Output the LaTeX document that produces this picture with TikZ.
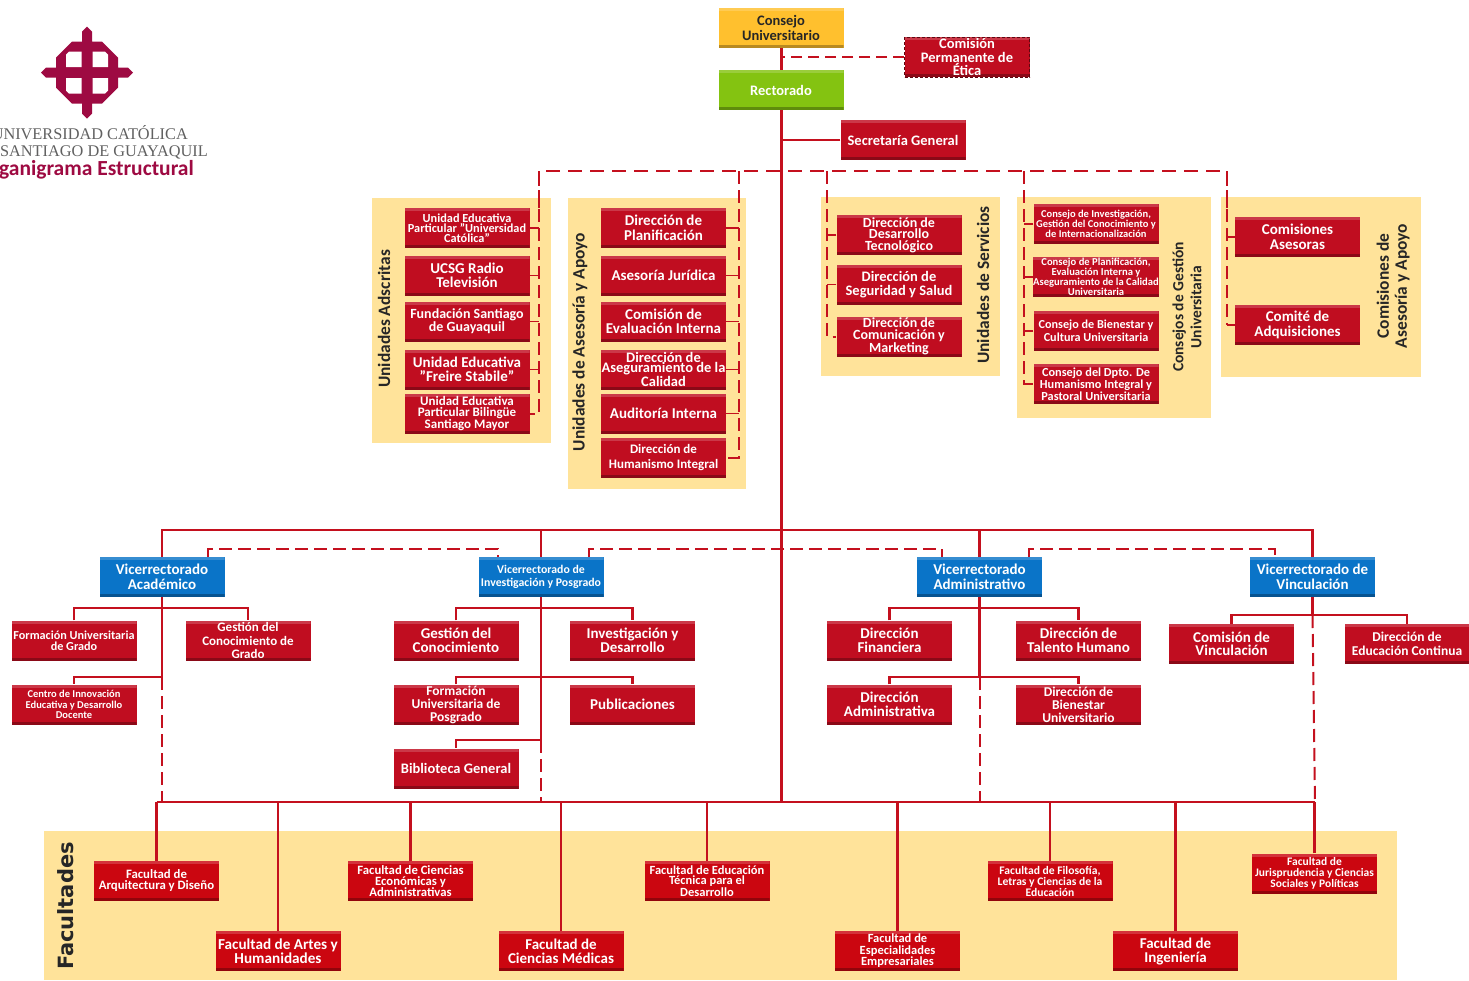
\documentclass[tikz,border=0pt]{standalone}
\usepackage{fontspec}
\setmainfont{Carlito}
\newfontfamily\logofont{Liberation Serif}
\newfontfamily\facfont{DejaVu Sans}
\usetikzlibrary{calc}
\definecolor{boxred}{HTML}{C00D20}
\definecolor{facred}{HTML}{CB0610}
\definecolor{linered}{HTML}{C4101E}
\definecolor{sand}{HTML}{FFE39A}
\definecolor{vblue}{HTML}{0A74C8}
\definecolor{cgold}{HTML}{FFC02E}
\definecolor{rgreen}{HTML}{84C311}
\definecolor{crest}{HTML}{9E0A42}
\newcommand\fz[2]{\fontsize{#1}{#2}\selectfont}
\tikzset{
  x=1pt,y=-1pt,
  base/.style={minimum width=125pt,minimum height=40pt,inner sep=0pt,align=center,
    text=white,font=\bfseries,
    path picture={
      \fill[white,opacity=.18] (path picture bounding box.north west) rectangle ([yshift=-3pt]path picture bounding box.north east);
      \fill[black,opacity=.28] (path picture bounding box.south west) rectangle ([yshift=3pt]path picture bounding box.south east);
    }},
  redbox/.style={base,fill=boxred},
  facbox/.style={base,fill=facred},
  bluebox/.style={base,fill=vblue},
  goldbox/.style={base,fill=cgold,text=black!85},
  greenbox/.style={base,fill=rgreen},
  band/.style={fill=sand},
  grouplabel/.style={rotate=90,align=center,font=\bfseries\fz{17.4}{18},text=black!85},
  main/.style={draw=linered,line width=3pt},
  solidline/.style={draw=linered,line width=2.3pt},
  thinline/.style={draw=linered,line width=1.5pt},
  dashline/.style={draw=linered,line width=2.4pt,dash pattern=on 14pt off 8pt},
  dashvert/.style={draw=linered,line width=2pt,dash pattern=on 13pt off 6pt},
  branch/.style={draw=linered,line width=1.5pt},
}
\begin{document}
\begin{tikzpicture}
\useasboundingbox (0,0) rectangle (1469,980);
\fill[white] (0,0) rectangle (1469,980);
% crest
\begin{scope}[shift={(87,72.5)}]
\fill[crest] (0,-46)--(5,-41)--(5,-31)--(15,-31)--(31,-15)--(31,-5)--(41,-5)--(46,0)
 --(41,5)--(31,5)--(31,15)--(15,31)--(5,31)--(5,41)--(0,46)--(-5,41)--(-5,31)--(-15,31)
 --(-31,15)--(-31,5)--(-41,5)--(-46,0)--(-41,-5)--(-31,-5)--(-31,-15)--(-15,-31)--(-5,-31)--(-5,-41)--cycle;
\foreach \sx/\sy in {1/1,1/-1,-1/1,-1/-1}
  \fill[white,xscale=\sx,yscale=\sy] (5.5,5.5)--(21,5.5)--(21,18)--(18,21)--(5.5,21)--cycle;
\end{scope}
\node[anchor=east,inner sep=0pt,text=black!62,font=\logofont\fz{16.3}{18}] (logoa) at (188,133) {UNIVERSIDAD CATÓLICA};
\node[anchor=east,inner sep=0pt,text=black!62,font=\logofont\fz{16.3}{18}] (logob) at (208,152) {SANTIAGO DE GUAYAQUIL};
\node[anchor=east,inner sep=0pt,text=crest,font=\bfseries\fz{21.5}{23}] (logoc) at (194,170) {Organigrama Estructural};
% bands
\fill[band] (372,198) rectangle (551,443);
\fill[band] (568,198) rectangle (746,489);
\fill[band] (821,197) rectangle (1000,376);
\fill[band] (1017,197) rectangle (1211,418);
\fill[band] (1221,197) rectangle (1421,377);
\fill[band] (44,831) rectangle (1397,980);
\node[grouplabel] (lbla) at (384,319) {Unidades Adscritas};
\node[grouplabel] (lblb) at (580,342) {Unidades de Asesoría y Apoyo};
\node[grouplabel] (lblc) at (983,285) {Unidades de Servicios};
\node[grouplabel,font=\bfseries\fz{15.5}{18}] (lbld) at (1187,307) {Consejos de Gestión\\Universitaria};
\node[grouplabel] (lble) at (1393,286) {Comisiones de\\Asesoría y Apoyo};
\node[rotate=90,font=\facfont\bfseries\fz{21}{23},text=black!85] (lblf) at (66,906) {Facultades};
% top
\node[goldbox,font=\bfseries\fz{14.5}{14.5}] (cu) at (781,28) {Consejo\\Universitario};
\node[greenbox,font=\bfseries\fz{14.5}{15}] (re) at (781,90) {Rectorado};
\node[redbox,draw=black!50!boxred,densely dashed,line width=.6pt,font=\bfseries\fz{14.5}{13.5}] (et) at (967,57) {Comisión\\Permanente de\\Ética};
\node[redbox,font=\bfseries\fz{14.5}{15}] (sg) at (903,140) {Secretaría General};
% adscritas
\node[redbox,font=\bfseries\fz{12.3}{10}] (a1) at (467,228) {Unidad Educativa\\Particular "Universidad\\Católica"};
\node[redbox,font=\bfseries\fz{15}{14.5}] (a2) at (467,275.5) {UCSG Radio\\Televisión};
\node[redbox,font=\bfseries\fz{14}{11}] (a3) at (467,321.5) {Fundación Santiago\\de Guayaquil};
\node[redbox,font=\bfseries\fz{15}{14.5}] (a4) at (467,369.5) {Unidad Educativa\\"Freire Stabile"};
\node[redbox,font=\bfseries\fz{13}{10.5}] (a5) at (467,413.5) {Unidad Educativa\\Particular Bilingüe\\Santiago Mayor};
% asesoria
\node[redbox,font=\bfseries\fz{15}{14.5}] (b1) at (663.5,228) {Dirección de\\Planificación};
\node[redbox,font=\bfseries\fz{15}{15}] (b2) at (663.5,275.5) {Asesoría Jurídica};
\node[redbox,font=\bfseries\fz{15}{14.5}] (b3) at (663.5,321.5) {Comisión de\\Evaluación Interna};
\node[redbox,font=\bfseries\fz{14.5}{10.5}] (b4) at (663.5,369.5) {Dirección de\\Aseguramiento de la\\Calidad};
\node[redbox,font=\bfseries\fz{15}{15}] (b5) at (663.5,413.5) {Auditoría Interna};
\node[redbox,font=\bfseries\fz{13}{14.5}] (b6) at (663.5,457.5) {Dirección de\\Humanismo Integral};
% servicios
\node[redbox,font=\bfseries\fz{14}{11.5}] (c1) at (899,235) {Dirección de\\Desarrollo\\Tecnológico};
\node[redbox,font=\bfseries\fz{14.5}{14.5}] (c2) at (899,284.5) {Dirección de\\Seguridad y Salud};
\node[redbox,font=\bfseries\fz{14}{11.5}] (c3) at (899,336.5) {Dirección de\\Comunicación y\\Marketing};
% consejos
\node[redbox,font=\bfseries\fz{10.5}{10}] (d1) at (1096,224) {Consejo de Investigación,\\Gestión del Conocimiento y\\de Internacionalización};
\node[redbox,font=\bfseries\fz{10.6}{10.2}] (d2) at (1096,277) {Consejo de Planificación,\\Evaluación Interna y\\Aseguramiento de la Calidad\\Universitaria};
\node[redbox,font=\bfseries\fz{12.2}{13}] (d3) at (1096,331) {Consejo de Bienestar y\\Cultura Universitaria};
\node[redbox,font=\bfseries\fz{12.3}{12}] (d4) at (1096,384) {Consejo del Dpto. De\\Humanismo Integral y\\Pastoral Universitaria};
% comisiones
\node[redbox,font=\bfseries\fz{15}{14.5}] (e1) at (1297.5,237) {Comisiones\\Asesoras};
\node[redbox,font=\bfseries\fz{15}{14.5}] (e2) at (1297.5,325) {Comité de\\Adquisiciones};
% vicerrectorados
\node[bluebox,font=\bfseries\fz{15}{14.5}] (va) at (162,577) {Vicerrectorado\\Académico};
\node[bluebox,font=\bfseries\fz{11.8}{13.5}] (vi) at (541,577) {Vicerrectorado de\\Investigación y Posgrado};
\node[bluebox,font=\bfseries\fz{15}{14.5}] (vd) at (979.5,577) {Vicerrectorado\\Administrativo};
\node[bluebox,font=\bfseries\fz{15}{14.5}] (vv) at (1312.5,577) {Vicerrectorado de\\Vinculación};
% academico
\node[redbox,font=\bfseries\fz{12.2}{11}] (f1) at (74,640.5) {Formación Universitaria\\de Grado};
\node[redbox,font=\bfseries\fz{13}{13.5}] (f2) at (248,640.5) {Gestión del\\Conocimiento de\\Grado};
\node[redbox,font=\bfseries\fz{10.5}{10.5}] (f3) at (74,704.5) {Centro de Innovación\\Educativa y Desarrollo\\Docente};
% investigacion
\node[redbox,font=\bfseries\fz{15}{14.5}] (g1) at (456,640.5) {Gestión del\\Conocimiento};
\node[redbox,font=\bfseries\fz{15}{14.5}] (g2) at (632.5,640.5) {Investigación y\\Desarrollo};
\node[redbox,font=\bfseries\fz{13.5}{13}] (g3) at (456,704.5) {Formación\\Universitaria de\\Posgrado};
\node[redbox,font=\bfseries\fz{15}{15}] (g4) at (632.5,704.5) {Publicaciones};
\node[redbox,font=\bfseries\fz{14.5}{15}] (g5) at (456,768.5) {Biblioteca General};
% administrativo
\node[redbox,font=\bfseries\fz{15}{14}] (h1) at (889.5,640.5) {Dirección\\Financiera};
\node[redbox,font=\bfseries\fz{15}{14.5}] (h2) at (1078.5,640.5) {Dirección de\\Talento Humano};
\node[redbox,font=\bfseries\fz{15}{14.5}] (h3) at (889.5,704.5) {Dirección\\Administrativa};
\node[redbox,font=\bfseries\fz{13.5}{13}] (h4) at (1078.5,704.5) {Dirección de\\Bienestar\\Universitario};
% vinculacion
\node[redbox,font=\bfseries\fz{15}{13.5}] (i1) at (1231.5,644) {Comisión de\\Vinculación};
\node[redbox,font=\bfseries\fz{13.5}{14.5}] (i2) at (1407,644) {Dirección de\\Educación Continua};
% facultades
\node[facbox,font=\bfseries\fz{12.8}{11}] (k1) at (156.5,881) {Facultad de\\Arquitectura y Diseño};
\node[facbox,font=\bfseries\fz{15.2}{14}] (k2) at (278,951) {Facultad de Artes y\\Humanidades};
\node[facbox,font=\bfseries\fz{12.7}{11}] (k3) at (410.5,881) {Facultad de Ciencias\\Económicas y\\Administrativas};
\node[facbox,font=\bfseries\fz{15}{14}] (k4) at (561,951) {Facultad de\\Ciencias Médicas};
\node[facbox,font=\bfseries\fz{12.5}{10.5}] (k5) at (707,881) {Facultad de Educación\\Técnica para el\\Desarrollo};
\node[facbox,font=\bfseries\fz{12.5}{11.5}] (k6) at (897.5,951) {Facultad de\\Especialidades\\Empresariales};
\node[facbox,font=\bfseries\fz{11.6}{11}] (k7) at (1050,881) {Facultad de Filosofía,\\Letras y Ciencias de la\\Educación};
\node[facbox,font=\bfseries\fz{15}{14}] (k8) at (1175.5,951) {Facultad de\\Ingeniería};
\node[facbox,font=\bfseries\fz{11.5}{11}] (k9) at (1314.5,873.5) {Facultad de\\Jurisprudencia y Ciencias\\Sociales y Políticas};
% junction coordinates
\coordinate (toph) at (0,171);
\coordinate (vrh) at (0,530);
\coordinate (vrd) at (0,549);
\coordinate (r1) at (0,608);
\coordinate (r2) at (0,677);
\coordinate (r3) at (0,740);
\coordinate (r1v) at (0,615);
\coordinate (fach) at (0,802);
\coordinate (ta) at (539,0);
\coordinate (tb) at (739,0);
\coordinate (tc) at (827,0);
\coordinate (td) at (1024,0);
\coordinate (te) at (1227,0);
\coordinate (vvb) at (1315,802);
% main trunk
\draw[main] (cu.south) -- (re.north);
\draw[main] (re.south) -- (re.south |- fach);
\draw[thinline] (sg.west) -- (sg.west -| re.south);
\draw[dashline,line width=2pt,dash pattern=on 11pt off 6pt] (et.west) -- (et.west -| cu.south);
% top dashed
\draw[dashline] (ta |- a1.north) -- (ta |- toph) -- (te |- toph) -- (te |- e1.north);
\draw[dashvert] (ta |- toph) -- (ta |- a5.east) -- (a5.east);
\draw[dashvert] (tb |- toph) -- (tb |- b6.east) -- (b6.east);
\draw[dashvert] (tc |- toph) -- (tc |- c3.east) -- (c3.west);
\draw[dashvert] (td |- toph) -- (td |- d4.west) -- (d4.west);
\draw[dashvert] (te |- toph) -- (te |- e2.west);
\foreach \n in {a1,a2,a3,a4} \draw[branch] (\n.east) -- (\n.east -| ta);
\foreach \n in {b1,b2,b3,b4,b5} \draw[branch] (\n.east) -- (\n.east -| tb);
\foreach \n in {c1,c2} \draw[branch] (\n.west) -- (\n.west -| tc);
\foreach \n in {d1,d2,d3} \draw[branch] (\n.west) -- (\n.west -| td);
\foreach \n in {e1,e2} \draw[branch] (\n.west) -- (\n.west -| te);
% vicerrectorado bus
\draw[solidline] (va.north) -- (va.north |- vrh) -- (vv.north |- vrh) -- (vv.north);
\draw[solidline] (vi.north) -- (vi.north |- vrh);
\draw[solidline] (vd.north) -- (vd.north |- vrh);
% dashed links between vicerrectorados
\coordinate (v1) at (208,557);
\coordinate (v2) at (498,557);
\coordinate (v3) at (589,557);
\coordinate (v4) at (942,557);
\coordinate (v5) at (1029,557);
\coordinate (v6) at (1275,557);
\draw[dashvert,line width=1.8pt] (v1) -- (v1 |- vrd) -- (v2 |- vrd) -- (v2);
\draw[dashvert,line width=1.8pt] (v3) -- (v3 |- vrd) -- (v4 |- vrd) -- (v4);
\draw[dashvert,line width=1.8pt] (v5) -- (v5 |- vrd) -- (v6 |- vrd) -- (v6);
% academico tree
\draw[solidline] (va.south) -- (va.south |- r2) -- (f3.north |- r2) -- (f3.north);
\draw[solidline] (f1.north) -- (f1.north |- r1) -- (f2.north |- r1) -- (f2.north);
\draw[dashvert] (va.south |- r2) -- (va.south |- fach);
% investigacion tree
\draw[solidline] (vi.south) -- (vi.south |- r3) -- (g5.north |- r3) -- (g5.north);
\draw[solidline] (g1.north) -- (g1.north |- r1) -- (g2.north |- r1) -- (g2.north);
\draw[solidline] (g3.north) -- (g3.north |- r2) -- (g4.north |- r2) -- (g4.north);
\draw[dashvert] (vi.south |- r3) -- (vi.south |- fach);
% administrativo tree
\draw[solidline] (vd.south) -- (vd.south |- r2);
\draw[solidline] (h1.north) -- (h1.north |- r1) -- (h2.north |- r1) -- (h2.north);
\draw[solidline] (h3.north) -- (h3.north |- r2) -- (h4.north |- r2) -- (h4.north);
\draw[dashvert] (vd.south |- r2) -- (vd.south |- fach);
% vinculacion tree
\draw[solidline] (vv.south) -- (vv.south |- r1v);
\draw[solidline] (i1.north) -- (i1.north |- r1v) -- (i2.north |- r1v) -- (i2.north);
\draw[dashvert] (vv.south |- r1v) -- (vvb);
% facultades
\draw[solidline,line width=2.6pt] (k1.north |- fach) -- (vvb);
\foreach \n in {k1,k2,k3,k4,k5,k6,k7,k8,k9}
  \draw[solidline] (\n.north) -- (\n.north |- fach);
\end{tikzpicture}
\end{document}
